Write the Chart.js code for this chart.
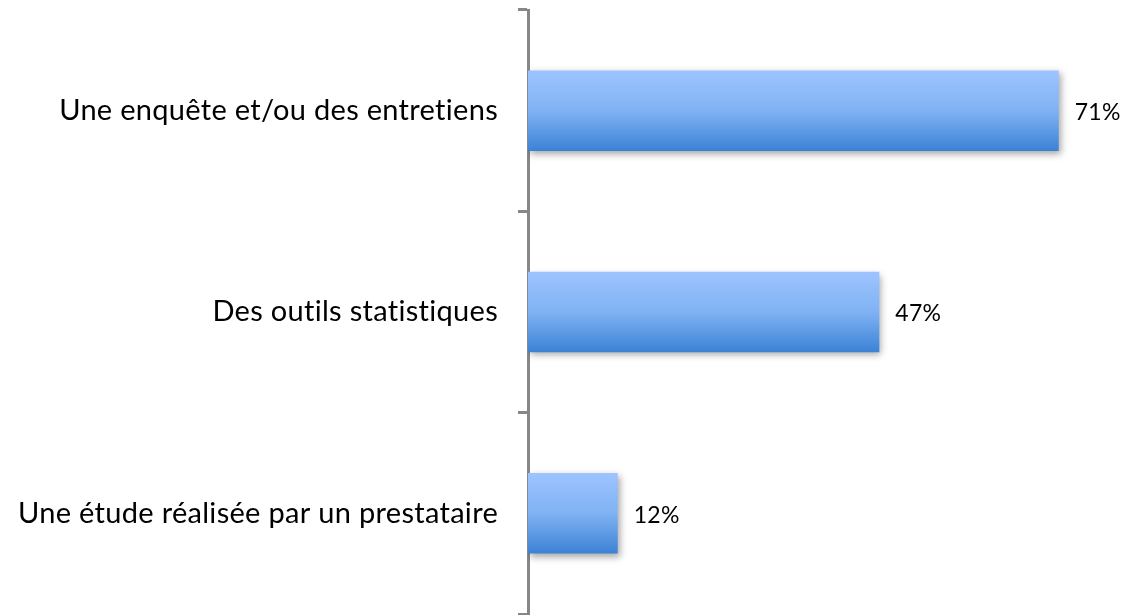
<!DOCTYPE html>
<html>
<head>
<meta charset="utf-8">
<script src="https://cdn.jsdelivr.net/npm/chart.js@4"></script>
<style>
  html, body { margin: 0; padding: 0; background: #ffffff; }
  #wrap { width: 1126px; height: 615px; position: relative; }
</style>
</head>
<body>
<div id="wrap"><canvas id="chart"></canvas></div>
<script>
// Categories and shares (in %)
const categories = [
  "Une enquête et/ou des entretiens",
  "Des outils statistiques",
  "Une étude réalisée par un prestataire"
];
const shares = [71, 47, 12];
const valueLabels = ["71%", "47%", "12%"];

const FONT = "Lato, 'Open Sans', sans-serif";
const BAR_FRACTION = 0.4;

// Vertical gradient per bar, light blue on top to deeper blue at the base
function barGradient(ctx) {
  const chart = ctx.chart;
  const y = chart.scales.y;
  if (!y || !chart.chartArea) return "#7fb0f0";
  const center = y.getPixelForValue(ctx.dataIndex);
  const half = (y.height / categories.length) * BAR_FRACTION / 2;
  const g = chart.ctx.createLinearGradient(0, center - half, 0, center + half);
  g.addColorStop(0, "#9ec4ff");
  g.addColorStop(0.5, "#80b2f3");
  g.addColorStop(1, "#3b82d5");
  return g;
}

// A hair of letter spacing keeps "ti" from being drawn as a ligature
const textSpacing = {
  id: "textSpacing",
  beforeDraw(chart) {
    if ("letterSpacing" in chart.ctx) chart.ctx.letterSpacing = "0.3px";
  }
};

// Soft drop shadow beneath the bars
const barShadow = {
  id: "barShadow",
  beforeDatasetsDraw(chart) {
    const c = chart.ctx;
    c.save();
    c.shadowColor = "rgba(0,0,0,0.35)";
    c.shadowBlur = 7;
    c.shadowOffsetX = 2;
    c.shadowOffsetY = 3;
  },
  afterDatasetsDraw(chart) {
    chart.ctx.restore();
  }
};

// Percentage written to the right of each bar
const valueText = {
  id: "valueText",
  afterDatasetsDraw(chart) {
    const c = chart.ctx;
    const meta = chart.getDatasetMeta(0);
    c.save();
    c.font = "23px " + FONT;
    c.fillStyle = "#000000";
    c.textAlign = "left";
    c.textBaseline = "middle";
    meta.data.forEach((bar, i) => {
      c.fillText(valueLabels[i], bar.x + 16, bar.y + 2);
    });
    c.restore();
  }
};

new Chart(document.getElementById("chart"), {
  type: "bar",
  data: {
    labels: categories,
    datasets: [{
      data: shares,
      backgroundColor: barGradient,
      borderWidth: 0,
      categoryPercentage: 1,
      barPercentage: BAR_FRACTION
    }]
  },
  options: {
    indexAxis: "y",
    responsive: true,
    maintainAspectRatio: false,
    animation: false,
    layout: { padding: { top: 10, right: 0, bottom: 1, left: 0 } },
    plugins: {
      legend: { display: false },
      tooltip: { enabled: false }
    },
    scales: {
      x: {
        display: false,
        min: 0,
        max: 80
      },
      y: {
        afterFit(scale) {
          scale.width = 528;
          scale.paddingTop = 0;
          scale.paddingBottom = 0;
        },
        border: { display: true, color: "#878787", width: 3 },
        grid: {
          offset: true,
          drawOnChartArea: false,
          drawTicks: true,
          tickLength: 10,
          tickWidth: 3,
          tickColor: "#878787"
        },
        ticks: {
          padding: 20,
          color: "#000000",
          font: { family: FONT, size: 29 }
        }
      }
    }
  },
  plugins: [textSpacing, barShadow, valueText]
});
</script>
</body>
</html>
